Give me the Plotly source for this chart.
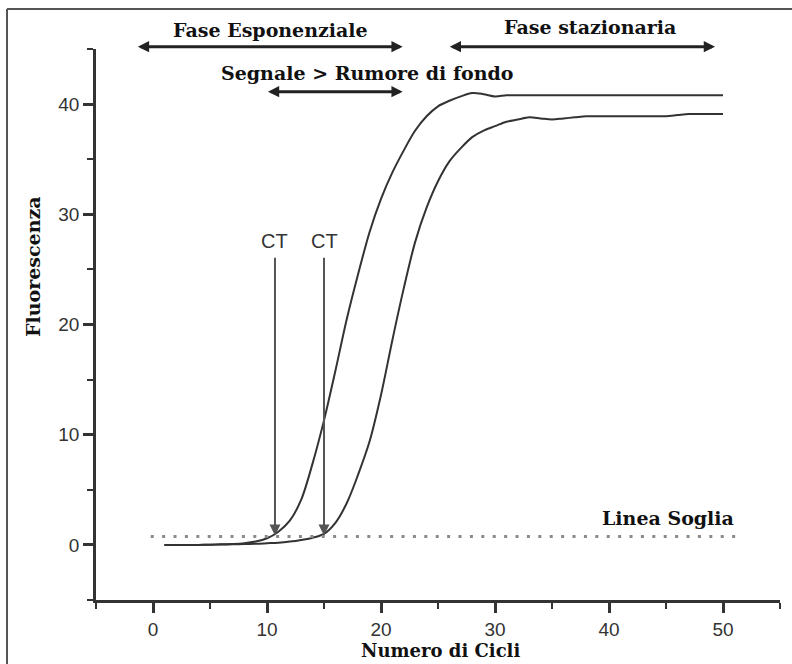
import plotly.graph_objects as go

# ---------------- data ----------------
cycles = list(range(1, 51))
fluor_a = [0.0, 0.0, -0.02, 0.0, 0.02, 0.05, 0.08, 0.15, 0.3, 0.6,
           1.2, 2.2, 4.1, 7.4, 11.3, 15.8, 20.5, 24.6, 28.4, 31.4,
           33.8, 35.8, 37.6, 38.9, 39.8, 40.3, 40.7, 41.0, 40.9, 40.7,
           40.8, 40.8, 40.8, 40.8, 40.8, 40.8, 40.8, 40.8, 40.8, 40.8,
           40.8, 40.8, 40.8, 40.8, 40.8, 40.8, 40.8, 40.8, 40.8, 40.8]
fluor_b = [0.0, 0.0, 0.0, 0.0, 0.02, 0.03, 0.05, 0.08, 0.1, 0.15,
           0.2, 0.3, 0.45, 0.65, 1.0, 2.0, 3.8, 6.4, 9.4, 13.6,
           18.6, 23.3, 27.5, 30.6, 33.0, 34.8, 36.0, 37.0, 37.6, 38.0,
           38.4, 38.6, 38.8, 38.7, 38.6, 38.7, 38.8, 38.9, 38.9, 38.9,
           38.9, 38.9, 38.9, 38.9, 38.9, 39.0, 39.1, 39.1, 39.1, 39.1]
threshold_value = 0.76
threshold_span = [-0.2, 51.1]
ct_cycles = [10.7, 15.0]
ct_arrow_top = 26.2
ct_label_y = 27.6
x_tick_vals = [0, 10, 20, 30, 40, 50]
y_tick_vals = [0, 10, 20, 30, 40]
x_range = [-5, 55]
y_range = [-5, 45]

# phase arrows: (start cycle, end cycle)
phase_exp = (-1.46, 21.9)
phase_stat = (25.9, 49.3)
phase_signal = (9.95, 21.9)

# ---------------- figure ----------------
W, H = 792, 664
ML, MR, MT, MB = 96, 12, 49, 64
PW, PH = W - ML - MR, H - MT - MB


def px(xp):
    return (xp - ML) / PW


def py(yp):
    return (H - MB - yp) / PH


SERIF = "DejaVu Serif"
SANS = "Liberation Sans, Arial, sans-serif"
curve_line = dict(color="#333333", width=2, shape="spline", smoothing=0.9)

fig = go.Figure()
fig.add_trace(go.Scatter(x=cycles, y=fluor_a, mode="lines", line=curve_line,
                         hoverinfo="skip", showlegend=False))
fig.add_trace(go.Scatter(x=cycles, y=fluor_b, mode="lines", line=curve_line,
                         hoverinfo="skip", showlegend=False))
fig.add_trace(go.Scatter(x=threshold_span, y=[threshold_value] * 2, mode="lines",
                         line=dict(color="#8a8a8a", width=3, dash="3px,8.4px"),
                         hoverinfo="skip", showlegend=False))

axis_common = dict(
    showline=True, linecolor="#333333", linewidth=2.5, mirror=False,
    ticks="outside", ticklen=10, tickwidth=2.5, tickcolor="#333333",
    showgrid=False, zeroline=False,
    tickfont=dict(family=SANS, size=19, color="#333333"),
    minor=dict(ticks="outside", ticklen=6, tickwidth=2, tickcolor="#333333",
               tick0=-5, dtick=10, showgrid=False),
)

fig.update_layout(
    width=W, height=H,
    margin=dict(l=ML, r=MR, t=MT, b=MB, pad=0),
    paper_bgcolor="white", plot_bgcolor="white",
    xaxis=dict(range=x_range, tickvals=x_tick_vals, **axis_common),
    yaxis=dict(range=y_range, tickvals=y_tick_vals, **axis_common),
    showlegend=False,
)

# frame (left and top border of the picture)
frame_style = dict(color="#555555", width=2)
fig.add_shape(type="line", xref="paper", yref="paper",
              x0=px(7), x1=px(7), y0=py(H + 5), y1=py(9), line=frame_style)
fig.add_shape(type="line", xref="paper", yref="paper",
              x0=px(7), x1=px(W + 5), y0=py(9), y1=py(9), line=frame_style)

title_font = dict(family=SERIF, size=19, color="#111111")

# phase double arrows
for (x0, x1), yp in [(phase_exp, 46.7), (phase_stat, 46.7), (phase_signal, 91.7)]:
    fig.add_annotation(x=x1, y=py(yp), xref="x", yref="paper",
                       ax=x0, ay=0, axref="x", ayref="pixel",
                       text="", showarrow=True, arrowhead=2, startarrowhead=2,
                       arrowside="end+start", arrowsize=0.75, startarrowsize=0.75,
                       arrowwidth=3, arrowcolor="#222222",
                       standoff=0, startstandoff=0)

fig.add_annotation(x=px(270), y=py(30), xref="paper", yref="paper",
                   text="<b>Fase Esponenziale</b>", showarrow=False,
                   font=title_font, xanchor="center", yanchor="middle")
fig.add_annotation(x=px(590), y=py(27), xref="paper", yref="paper",
                   text="<b>Fase stazionaria</b>", showarrow=False,
                   font=title_font, xanchor="center", yanchor="middle")
fig.add_annotation(x=px(367), y=py(73), xref="paper", yref="paper",
                   text="<b>Segnale &gt; Rumore di fondo</b>", showarrow=False,
                   font=title_font, xanchor="center", yanchor="middle")
fig.add_annotation(x=45.15, y=2.43, xref="x", yref="y",
                   text="<b>Linea Soglia</b>", showarrow=False,
                   font=title_font, xanchor="center", yanchor="middle")

# CT arrows
for ct in ct_cycles:
    fig.add_annotation(x=ct, y=threshold_value + 0.1, xref="x", yref="y",
                       ax=ct, ay=ct_arrow_top, axref="x", ayref="y",
                       text="", showarrow=True, arrowhead=2, arrowsize=1.1,
                       arrowwidth=2, arrowcolor="#555555", standoff=0)
    fig.add_annotation(x=ct, y=ct_label_y, xref="x", yref="y", text="CT",
                       showarrow=False,
                       font=dict(family=SANS, size=20, color="#333333"),
                       xanchor="center", yanchor="middle")

# axis titles
fig.add_annotation(x=px(33), y=py(267), xref="paper", yref="paper",
                   text="<b>Fluorescenza</b>", showarrow=False, textangle=-90,
                   font=title_font, xanchor="center", yanchor="middle")
fig.add_annotation(x=px(440), y=py(650), xref="paper", yref="paper",
                   text="<b>Numero di Cicli</b>", showarrow=False,
                   font=dict(family=SERIF, size=18, color="#111111"),
                   xanchor="center", yanchor="middle")

fig.write_html("out.html", config={"displayModeBar": False})
